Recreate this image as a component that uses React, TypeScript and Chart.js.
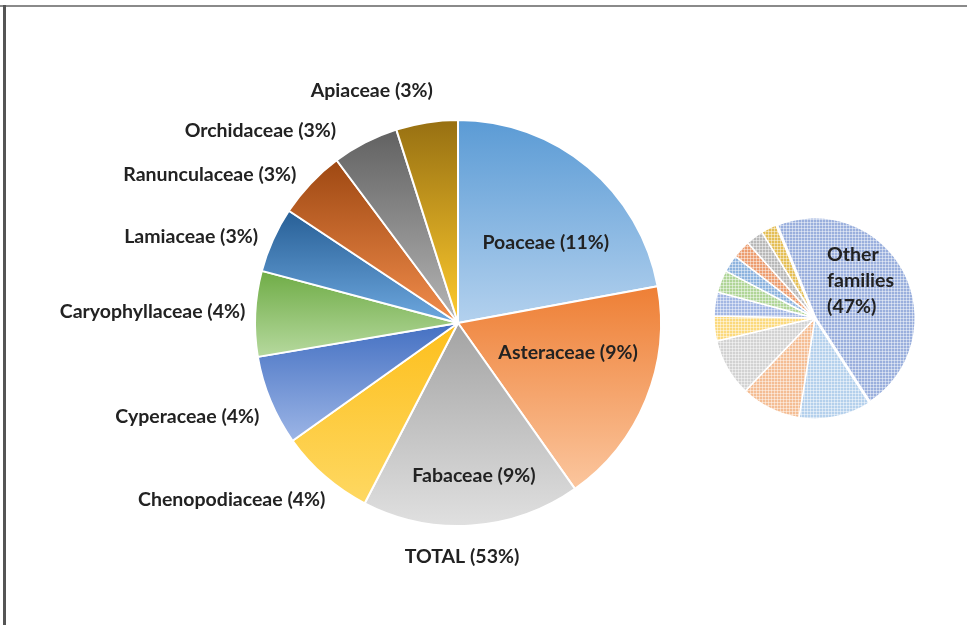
import React, { useEffect, useRef } from "react";
import { Chart, registerables } from "chart.js";

Chart.register(...registerables);

// ---------- data ----------
const families = [
  "Poaceae",
  "Asteraceae",
  "Fabaceae",
  "Chenopodiaceae",
  "Cyperaceae",
  "Caryophyllaceae",
  "Lamiaceae",
  "Ranunculaceae",
  "Orchidaceae",
  "Apiaceae",
];
const familyShares = [11.7, 9.6, 9.2, 4.0, 3.8, 3.6, 2.75, 2.9, 2.8, 2.6];
const familyLabels = [
  "Poaceae (11%)",
  "Asteraceae (9%)",
  "Fabaceae (9%)",
  "Chenopodiaceae (4%)",
  "Cyperaceae (4%)",
  "Caryophyllaceae (4%)",
  "Lamiaceae (3%)",
  "Ranunculaceae (3%)",
  "Orchidaceae (3%)",
  "Apiaceae (3%)",
];
const otherName = "Other families";
const otherShare = 47.05;
const otherLabelLines = ["Other", "families", "(47%)"];
const totalLabel = "TOTAL (53%)";

// ---------- styles ----------
const gradientTop = ["#5b9bd5", "#ee7f35", "#a3a3a3", "#fdbf1c", "#4470c2", "#6fac46", "#275f96", "#9e4812", "#616161", "#977012"];
const gradientBottom = ["#b3d1ee", "#fbc69e", "#e0e0e0", "#fed862", "#9cb5e6", "#b6d99e", "#6ea8df", "#f28d4c", "#b6b6b6", "#ffcb2e"];
const sideColors = ["#b4d0ec", "#f4bd94", "#d2d2d2", "#fbd97c", "#a3b7e3", "#b0d597", "#8db3de", "#ec9d70", "#b8b8b8", "#e4be55", "#9aafdd"];
const FONT = "Lato, 'Open Sans', sans-serif";
const FONT_SIZE = 19.5;
const TEXT_COLOR = "#222222";

// label layout (text placement only): inside labels centred, outside labels right-aligned
const labelPlacement = [
  { inside: true, radius: 0.59, turn: 7.4, gap: 0 },
  { inside: true, radius: 0.56, turn: -7.7, gap: 0 },
  { inside: true, radius: 0.75, turn: -2.1, gap: 0 },
  { inside: false, radius: 0, turn: -3.9, gap: 17 },
  { inside: false, radius: 0, turn: -2.4, gap: 16 },
  { inside: false, radius: 0, turn: 0.6, gap: 10 },
  { inside: false, radius: 0, turn: -0.7, gap: 15 },
  { inside: false, radius: 0, turn: -0.7, gap: 17 },
  { inside: false, radius: 0, turn: -5, gap: 25.6 },
  { inside: false, radius: 0, turn: 2.7, gap: 32 },
];

function sliceVerticalBounds(arc: any) {
  const { x, y, startAngle, endAngle, outerRadius } = arc;
  let minY = y;
  let maxY = y;
  const steps = 60;
  for (let i = 0; i <= steps; i++) {
    const a = startAngle + ((endAngle - startAngle) * i) / steps;
    const py = y + outerRadius * Math.sin(a);
    if (py < minY) minY = py;
    if (py > maxY) maxY = py;
  }
  return { minY, maxY };
}

function makePattern(color: string): CanvasPattern | string {
  const c = document.createElement("canvas");
  c.width = 3;
  c.height = 3;
  const g = c.getContext("2d");
  if (!g) return color;
  g.fillStyle = color;
  g.fillRect(0, 0, 3, 3);
  g.fillStyle = "rgba(255,255,255,0.45)";
  g.fillRect(0, 0, 3, 1);
  g.fillRect(0, 0, 1, 3);
  const p = g.createPattern(c, "repeat");
  return p || color;
}

const mainPlugin = {
  id: "mainPieDecor",
  beforeDatasetsDraw(chart: any) {
    const ctx = chart.ctx;
    const arcs = chart.getDatasetMeta(0).data;
    arcs.forEach((arc: any, i: number) => {
      const { minY, maxY } = sliceVerticalBounds(arc);
      const g = ctx.createLinearGradient(0, minY, 0, maxY);
      g.addColorStop(0, gradientTop[i]);
      g.addColorStop(1, gradientBottom[i]);
      arc.options = Object.assign({}, arc.options, { backgroundColor: g });
    });
  },
  afterDatasetsDraw(chart: any) {
    const ctx = chart.ctx;
    const arcs = chart.getDatasetMeta(0).data;
    ctx.save();
    ctx.font = `bold ${FONT_SIZE}px ${FONT}`;
    ctx.fillStyle = TEXT_COLOR;
    ctx.textBaseline = "middle";
    arcs.forEach((arc: any, i: number) => {
      const { x, y, startAngle, endAngle, outerRadius } = arc;
      const mid = (startAngle + endAngle) / 2;
      const p = labelPlacement[i];
      const text = familyLabels[i];
      const a = mid + (p.turn * Math.PI) / 180;
      if (p.inside) {
        const rr = outerRadius * p.radius;
        ctx.textAlign = "center";
        ctx.fillText(text, x + rr * Math.cos(a), y + rr * Math.sin(a) + 1);
      } else {
        const rr = outerRadius + p.gap;
        ctx.textAlign = "right";
        ctx.fillText(text, x + rr * Math.cos(a), y + rr * Math.sin(a) + 1);
      }
    });
    const a0 = arcs[0];
    ctx.textAlign = "center";
    ctx.fillText(totalLabel, a0.x + 4, a0.y + a0.outerRadius + 31);
    ctx.restore();
  },
};

const sidePlugin = {
  id: "sidePieDecor",
  afterDatasetsDraw(chart: any) {
    const ctx = chart.ctx;
    const arcs = chart.getDatasetMeta(0).data;
    const a = arcs[arcs.length - 1];
    ctx.save();
    ctx.font = `bold ${FONT_SIZE}px ${FONT}`;
    ctx.fillStyle = TEXT_COLOR;
    ctx.textBaseline = "middle";
    ctx.textAlign = "left";
    const left = a.x + a.outerRadius * 0.12;
    const midY = a.y - a.outerRadius * 0.39 + 2;
    otherLabelLines.forEach((line, i) => {
      ctx.fillText(line, left, midY + (i - 1) * 26);
    });
    ctx.restore();
  },
};

export default function App() {
  const mainRef = useRef<HTMLCanvasElement>(null);
  const sideRef = useRef<HTMLCanvasElement>(null);

  useEffect(() => {
    if (!mainRef.current || !sideRef.current) return;

    const main = new Chart(mainRef.current, {
      type: "pie",
      data: {
        labels: families,
        datasets: [
          {
            data: familyShares,
            backgroundColor: (c: any) => gradientTop[c.dataIndex],
            borderColor: "#ffffff",
            borderWidth: 2,
          },
        ],
      },
      options: {
        responsive: false,
        animation: false,
        events: [],
        radius: 203,
        rotation: 0,
        layout: { padding: { left: 254, right: 305, top: 119, bottom: 98 } },
        plugins: {
          legend: { display: false },
          tooltip: { enabled: false },
          title: { display: false },
        },
      } as any,
      plugins: [mainPlugin],
    });

    const sideLabels = [...families, otherName];
    const sideData = [...familyShares, otherShare];
    const side = new Chart(sideRef.current, {
      type: "pie",
      data: {
        labels: sideLabels,
        datasets: [
          {
            data: sideData,
            backgroundColor: sideColors.map((c) => makePattern(c)),
            borderColor: "#ffffff",
            borderWidth: sideData.map((_, i) => (i === sideData.length - 1 ? 3 : 1.5)),
          },
        ],
      },
      options: {
        responsive: false,
        animation: false,
        events: [],
        radius: 101,
        rotation: 147,
        layout: { padding: { left: 705, right: 42, top: 208, bottom: 197 } },
        plugins: {
          legend: { display: false },
          tooltip: { enabled: false },
          title: { display: false },
        },
      } as any,
      plugins: [sidePlugin],
    });

    return () => {
      main.destroy();
      side.destroy();
    };
  }, []);

  return (
    <div
      style={{
        position: "fixed",
        left: 0,
        top: 0,
        width: 967,
        height: 625,
        background: "#ffffff",
        overflow: "hidden",
      }}
    >
      <div style={{ position: "absolute", left: 0, top: 5, width: 967, height: 2, background: "#8a8a8a" }} />
      <div style={{ position: "absolute", left: 3, top: 5, width: 3, height: 620, background: "#555555" }} />
      <canvas ref={mainRef} width={967} height={625} style={{ position: "absolute", left: 0, top: 0 }} />
      <canvas ref={sideRef} width={967} height={625} style={{ position: "absolute", left: 0, top: 0 }} />
    </div>
  );
}
